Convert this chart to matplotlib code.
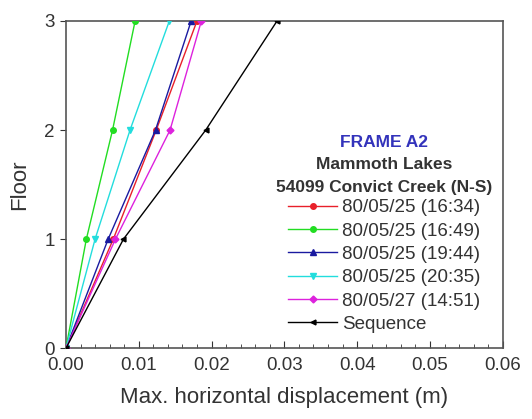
import matplotlib
matplotlib.use("Agg")
from matplotlib import pyplot as plt
from matplotlib.ticker import MultipleLocator

plt.rcParams['font.family'] = ['Liberation Sans', 'DejaVu Sans']

floors = [0, 1, 2, 3]
labels = ["80/05/25 (16:34)", "80/05/25 (16:49)", "80/05/25 (19:44)",
          "80/05/25 (20:35)", "80/05/27 (14:51)", "Sequence"]
disp_1634 = [0.0, 0.0065, 0.0124, 0.0180]
disp_1649 = [0.0, 0.0028, 0.0064, 0.0095]
disp_1944 = [0.0, 0.0058, 0.0123, 0.0172]
disp_2035 = [0.0, 0.0040, 0.0088, 0.0142]
disp_1451 = [0.0, 0.0068, 0.0143, 0.0186]
disp_seq = [0.0, 0.0079, 0.0192, 0.0290]

series = [disp_1634, disp_1649, disp_1944, disp_2035, disp_1451, disp_seq]
colors = ["#e8202a", "#22dd22", "#1a1aa0", "#22dddd", "#dd22dd", "#000000"]
markers = ["o", "o", "^", "v", "D", "<"]
msizes = [4, 4, 4.5, 4.5, 3.5, 3.5]

fig = plt.figure(figsize=(5.32, 4.19), dpi=100)
ax = fig.add_axes([0.124, 0.169, 0.821, 0.781])

for d, lab, c, m, ms in zip(series, labels, colors, markers, msizes):
    ax.plot(d, floors, color=c, marker=m, markersize=ms, linewidth=1.0,
            label=lab, zorder=3)

ax.set_xlim(0, 0.06)
ax.set_ylim(0, 3)
ax.xaxis.set_major_locator(MultipleLocator(0.01))
ax.xaxis.set_minor_locator(MultipleLocator(0.002))
ax.yaxis.set_major_locator(MultipleLocator(1))
ax.xaxis.set_major_formatter(plt.FormatStrFormatter("%.2f"))
ax.tick_params(axis='x', which='both', direction='in', labelsize=13.5, colors='#333333', pad=6)
ax.tick_params(axis='x', which='major', length=5)
ax.tick_params(axis='x', which='minor', length=3)
ax.tick_params(axis='y', which='major', direction='out', length=4, pad=4,
               labelsize=13.5, colors='#333333')
for s in ax.spines.values():
    s.set_color('#555555')
    s.set_linewidth(1.2)

ax.set_xlabel("Max. horizontal displacement (m)", fontsize=16, color='#333333', labelpad=10)
ax.set_ylabel("Floor", fontsize=16, color='#333333', labelpad=10)

hx = 0.728
ax.text(hx, 0.628, "FRAME A2", transform=ax.transAxes, ha='center', va='center',
        fontsize=12.5, fontweight='bold', color='#3333bb')
ax.text(hx, 0.562, "Mammoth Lakes", transform=ax.transAxes, ha='center', va='center',
        fontsize=12.5, fontweight='bold', color='#333333')
ax.text(hx, 0.492, "54099 Convict Creek (N-S)", transform=ax.transAxes, ha='center', va='center',
        fontsize=12.5, fontweight='bold', color='#333333')

leg = ax.legend(loc='upper left', bbox_to_anchor=(0.509, 0.455), frameon=False,
                fontsize=13.5, handlelength=2.6, handletextpad=0.26, labelspacing=0.33,
                borderpad=0, borderaxespad=0)
for t in leg.get_texts():
    t.set_color('#333333')

fig.savefig("out.png", dpi=100)
